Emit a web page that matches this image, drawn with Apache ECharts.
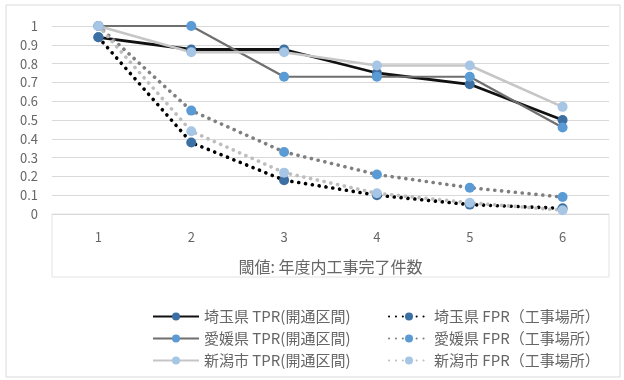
<!DOCTYPE html>
<html>
<head>
<meta charset="utf-8">
<script src="https://cdn.jsdelivr.net/npm/echarts@6/dist/echarts.min.js"></script>
<style>
html,body{margin:0;padding:0;background:#fff;}
#chart{width:624px;height:380px;}
</style>
</head>
<body>
<div id="chart"></div>
<script>
const categories = ['1', '2', '3', '4', '5', '6'];
const saitamaTPR = [0.94, 0.875, 0.875, 0.75, 0.69, 0.50];
const ehimeTPR   = [1.0, 1.0, 0.73, 0.73, 0.73, 0.46];
const niigataTPR = [1.0, 0.86, 0.86, 0.79, 0.79, 0.57];
const saitamaFPR = [0.94, 0.38, 0.18, 0.10, 0.05, 0.03];
const ehimeFPR   = [1.0, 0.55, 0.33, 0.21, 0.14, 0.09];
const niigataFPR = [1.0, 0.44, 0.22, 0.11, 0.06, 0.02];
const seriesNames = [
  '埼玉県 TPR(開通区間)', '愛媛県 TPR(開通区間)', '新潟市 TPR(開通区間)',
  '埼玉県 FPR（工事場所）', '愛媛県 FPR（工事場所）', '新潟市 FPR（工事場所）'
];
const xAxisName = '閾値: 年度内工事完了件数';

const FONT = '"Noto Sans CJK JP", "Noto Sans", sans-serif';
const TXT = '#666666';

function mk(name, data, lineColor, width, dotted, markerColor) {
  return {
    name: name,
    type: 'line',
    data: data,
    symbol: 'circle',
    symbolSize: 10,
    showSymbol: true,
    animation: false,
    itemStyle: { color: markerColor },
    lineStyle: dotted
      ? { color: lineColor, width: 3.6, type: [0.1, 6.8], cap: 'round' }
      : { color: lineColor, width: width, type: 'solid' },
    emphasis: { disabled: true }
  };
}

const cSai = '#3d70a2', cEhi = '#5b9bd5', cNii = '#a7c5e5';

const chart = echarts.init(document.getElementById('chart'), null, { renderer: 'canvas' });
chart.setOption({
  backgroundColor: '#fff',
  animation: false,
  textStyle: { fontFamily: FONT },
  graphic: [
    { type: 'rect', shape: { x: 6, y: 5, width: 614, height: 372 },
      style: { fill: 'none', stroke: '#d9d9d9', lineWidth: 1 }, z: -1 },
    { type: 'rect', shape: { x: 52, y: 214, width: 557, height: 63 },
      style: { fill: 'none', stroke: '#e3e3e3', lineWidth: 1 }, z: -1 }
  ],
  grid: { left: 52, right: 15, top: 26, bottom: 166, containLabel: false },
  legend: [
    {
      data: seriesNames.slice(0, 3),
      orient: 'vertical', left: 147, top: 303,
      itemWidth: 46, itemHeight: 10, itemGap: 5,
      textStyle: { color: TXT, fontSize: 15, fontFamily: FONT, lineHeight: 17 },
      selectedMode: false
    },
    {
      data: seriesNames.slice(3),
      orient: 'vertical', left: 383, top: 303,
      itemWidth: 40, itemHeight: 10, itemGap: 5,
      textStyle: { color: TXT, fontSize: 15, fontFamily: FONT, lineHeight: 17 },
      selectedMode: false
    }
  ],
  xAxis: {
    type: 'category',
    data: categories,
    boundaryGap: true,
    name: xAxisName,
    nameLocation: 'middle',
    nameGap: 45,
    nameTextStyle: { color: TXT, fontSize: 16, fontFamily: FONT },
    axisLine: { show: false },
    axisTick: { show: false },
    axisLabel: { color: TXT, fontSize: 13, margin: 17, fontFamily: FONT }
  },
  yAxis: {
    type: 'value',
    min: 0, max: 1, interval: 0.1,
    axisLine: { show: false },
    axisTick: { show: false },
    axisLabel: { color: TXT, fontSize: 13, margin: 14, fontFamily: FONT,
      formatter: function (v) { return String(Math.round(v * 10) / 10); } },
    splitLine: { lineStyle: { color: '#d9d9d9', width: 1 } }
  },
  series: [
    mk(seriesNames[0], saitamaTPR, '#111111', 2.8, false, cSai),
    mk(seriesNames[1], ehimeTPR, '#6f6f6f', 2.2, false, cEhi),
    mk(seriesNames[2], niigataTPR, '#c6c6c6', 2.6, false, cNii),
    mk(seriesNames[3], saitamaFPR, '#000000', 0, true, cSai),
    mk(seriesNames[4], ehimeFPR, '#7f7f7f', 0, true, cEhi),
    mk(seriesNames[5], niigataFPR, '#bdbdbd', 0, true, cNii)
  ]
});
</script>
</body>
</html>
